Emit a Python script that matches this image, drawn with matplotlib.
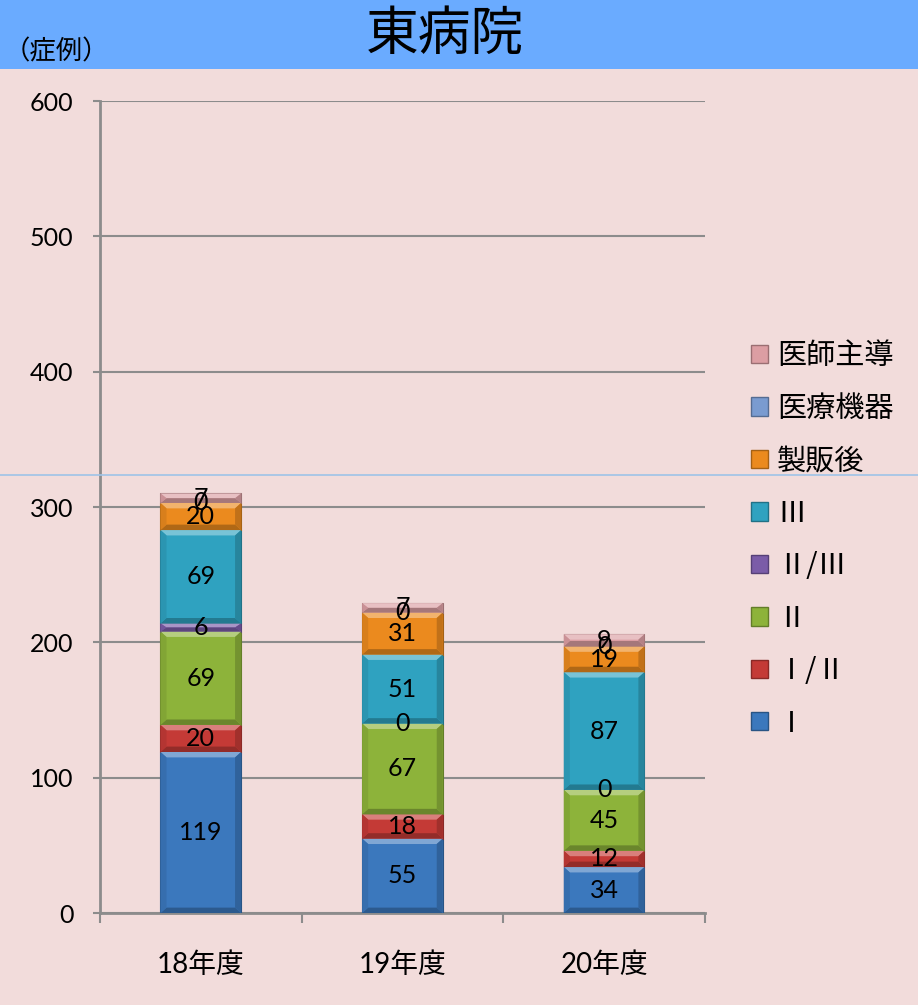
import matplotlib.pyplot as plt
import matplotlib.colors as mcolors
from matplotlib.patches import Polygon, Patch, Rectangle
from matplotlib.lines import Line2D
import numpy as np

plt.rcParams['font.family'] = ['Lato', 'Noto Sans CJK JP', 'DejaVu Sans']

years = ['18年度', '19年度', '20年度']
series = ['Ⅰ', 'Ⅰ/Ⅱ', 'Ⅱ', 'Ⅱ/Ⅲ', 'Ⅲ', '製販後', '医療機器', '医師主導']
phase1 = [119, 55, 34]
phase12 = [20, 18, 12]
phase2 = [69, 67, 45]
phase23 = [6, 0, 0]
phase3 = [69, 51, 87]
post_marketing = [20, 31, 19]
device = [0, 0, 0]
investigator = [7, 7, 9]
values = [phase1, phase12, phase2, phase23, phase3, post_marketing, device, investigator]
colors = ['#3b78bd', '#c43a36', '#8db33a', '#7b5ca8', '#2fa2c0', '#eb8a1e', '#7a9bd0', '#dc9ea3']

bg = '#f2dcdb'
grey = '#8c8c8c'

fig = plt.figure(figsize=(9.18, 10.05), dpi=100, facecolor=bg)
ax = fig.add_axes([0.1089, 0.0915, 0.659, 0.808])
ax.set_facecolor(bg)

# header band
fig.patches.append(Rectangle((0, 0.9313), 1, 0.0687, transform=fig.transFigure,
                             facecolor='#6aabff', edgecolor='none', zorder=0))
fig.text(0.485, 0.966, '東病院', ha='center', va='center', fontsize=38,
         family=['Noto Sans CJK JP'])
fig.text(0.004, 0.948, '（症例）', ha='left', va='center', fontsize=19,
         family=['Noto Sans CJK JP'])
fig.add_artist(Line2D([0, 1], [0.5274, 0.5274], transform=fig.transFigure,
                      color='#9fc3e8', lw=1.2))


def shade(c, f):
    r, g, b = mcolors.to_rgb(c)
    if f > 1:
        return (r + (1 - r) * (f - 1), g + (1 - g) * (f - 1), b + (1 - b) * (f - 1))
    return (r * f, g * f, b * f)


x = np.arange(len(years))
width = 0.4
dx = 0.03
bottom = np.zeros(len(years))
for vals, col in zip(values, colors):
    vals = np.array(vals, dtype=float)
    ax.bar(x, vals, width, bottom=bottom, color=col, edgecolor=shade(col, 0.7),
           linewidth=0.8, zorder=3)
    # bevel faces on each block
    for xi, b, v in zip(x, bottom, vals):
        if v <= 0:
            continue
        x0, x1 = xi - width / 2, xi + width / 2
        y0, y1 = b, b + v
        dy = min(4.0, v / 2)
        faces = [
            ([(x0, y1), (x1, y1), (x1 - dx, y1 - dy), (x0 + dx, y1 - dy)], shade(col, 1.35)),
            ([(x0, y0), (x1, y0), (x1 - dx, y0 + dy), (x0 + dx, y0 + dy)], shade(col, 0.75)),
            ([(x0, y0), (x0 + dx, y0 + dy), (x0 + dx, y1 - dy), (x0, y1)], shade(col, 0.92)),
            ([(x1, y0), (x1 - dx, y0 + dy), (x1 - dx, y1 - dy), (x1, y1)], shade(col, 0.82)),
        ]
        for pts, fc in faces:
            ax.add_patch(Polygon(pts, closed=True, facecolor=fc, edgecolor='none', zorder=4))
    for xi, b, v in zip(x, bottom, vals):
        ax.text(xi, b + v / 2, f'{int(v)}', ha='center', va='center',
                fontsize=18, zorder=5)
    bottom += vals

ax.set_xlim(-0.5, 2.5)
ax.set_ylim(0, 600)
ax.set_yticks(range(0, 601, 100))
ax.yaxis.grid(True, color=grey, lw=1.5, zorder=0)
ax.set_axisbelow(True)
ax.tick_params(axis='y', labelsize=18, length=5, width=1.5, color=grey, pad=14)

ax.set_xticks(x)
ax.set_xticklabels(years, fontsize=20)
ax.set_xticks([-0.5, 0.5, 1.5, 2.5], minor=True)
ax.tick_params(axis='x', which='major', length=0, pad=28)
ax.tick_params(axis='x', which='minor', length=7, width=1.5, color=grey)

for s in ['top', 'right']:
    ax.spines[s].set_visible(False)
for s in ['left', 'bottom']:
    ax.spines[s].set_color(grey)
    ax.spines[s].set_linewidth(2)

handles = [Patch(facecolor=c, edgecolor=shade(c, 0.7)) for c in colors][::-1]
leg = fig.legend(handles, series[::-1], loc='upper left', bbox_to_anchor=(0.805, 0.672),
                 frameon=False, handlelength=0.6, handleheight=0.6,
                 handletextpad=0.3, labelspacing=0.77, borderaxespad=0,
                 prop={'family': ['Noto Sans CJK JP'], 'size': 21})

fig.savefig('out.png', dpi=100, facecolor=bg)
